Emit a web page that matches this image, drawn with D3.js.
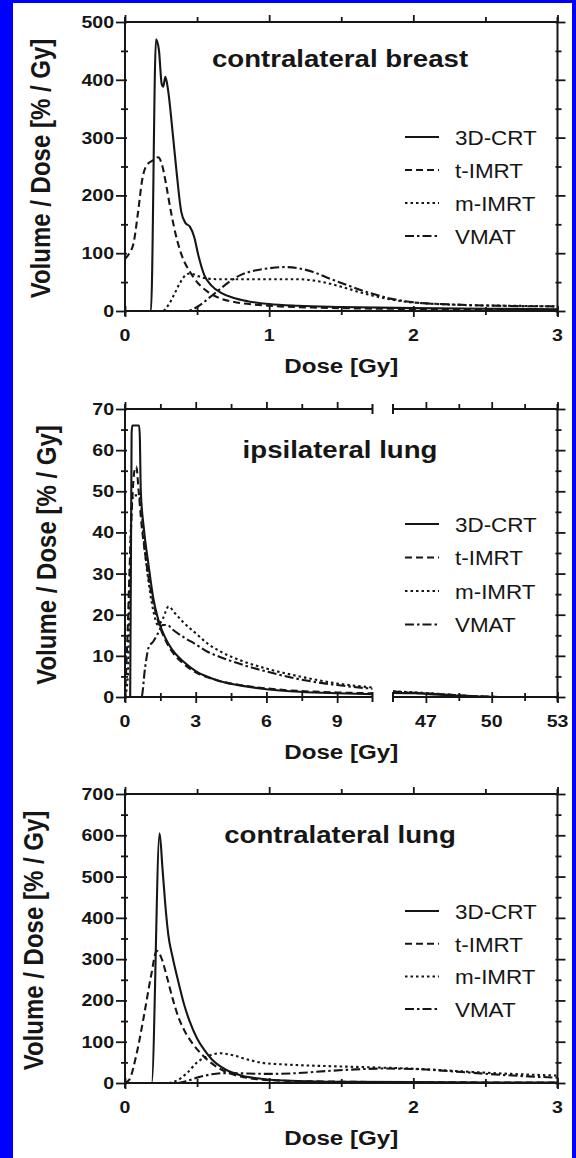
<!DOCTYPE html>
<html>
<head>
<meta charset="utf-8">
<script src="https://cdn.jsdelivr.net/npm/d3@7"></script>
<style>
  html, body { margin: 0; padding: 0; background: #fff; }
  svg { display: block; }
</style>
</head>
<body>
<script>
// ---- data: differential DVH, [dose Gy, volume/dose %/Gy] ----
const techniques = ["3D-CRT", "t-IMRT", "m-IMRT", "VMAT"];
const panelTitles = ["contralateral breast", "ipsilateral lung", "contralateral lung"];

const breastCRT = [[0,0],[0.18,0],[0.215,470],[0.235,452],[0.255,392],[0.265,388],[0.28,405],[0.3,380],[0.33,310],[0.36,235],[0.39,172],[0.42,152],[0.45,146],[0.48,128],[0.51,95],[0.55,62],[0.6,44],[0.67,31],[0.75,23],[0.85,17],[1.0,12],[1.2,9],[1.5,7],[2.0,5],[2.5,4],[3.0,3]];
const breastTIMRT = [[0,90],[0.03,100],[0.06,118],[0.09,170],[0.12,228],[0.15,252],[0.19,260],[0.23,266],[0.26,250],[0.29,212],[0.32,170],[0.36,124],[0.4,92],[0.45,68],[0.5,50],[0.57,34],[0.65,23],[0.75,16],[0.9,11],[1.0,9],[1.3,6],[1.6,4.5],[2,3.5],[2.5,2.5],[3,2]];
const breastMIMRT = [[0,0],[0.26,0],[0.3,10],[0.34,28],[0.38,48],[0.42,62],[0.45,65],[0.5,61],[0.55,57],[0.65,55],[0.8,55],[1.0,55],[1.2,55],[1.35,51],[1.5,42],[1.65,31],[1.8,22],[1.95,16],[2.1,13],[2.4,10],[2.7,9],[3,8]];
const breastVMAT = [[0,0],[0.42,0],[0.47,3],[0.52,10],[0.58,22],[0.65,36],[0.72,50],[0.8,62],[0.9,70],[1.0,74],[1.1,76],[1.2,74],[1.3,68],[1.4,58],[1.55,44],[1.7,31],[1.85,21],[2.0,15],[2.3,11],[2.6,9],[3,8]];

const ipsiCRT = [[0,0],[0.22,0],[0.28,64],[0.31,66],[0.45,66],[0.6,66],[0.63,63],[0.67,50],[0.8,41],[1.0,32],[1.2,24],[1.4,19],[1.7,14.5],[2.0,11.5],[2.5,8.5],[3.0,6.3],[3.5,4.9],[4,3.9],[5,2.7],[6,1.9],[7,1.4],[8,1.1],[9,0.9],[10.5,0.7],[45.5,1.0],[46.5,0.9],[47.5,0.6],[48.5,0.3],[49.5,0.1],[50.5,0],[53,0]];
const ipsiTIMRT = [[0,0],[0.1,14],[0.2,32],[0.3,47],[0.4,55],[0.48,56],[0.58,50],[0.7,42],[0.85,35],[1.0,29],[1.2,23],[1.4,18.5],[1.7,14],[2.0,11],[2.5,8],[3.0,6],[3.5,4.8],[4,3.9],[5,2.8],[6,2.1],[7,1.6],[8,1.3],[9,1.1],[10.5,0.9],[45.5,1.2],[46.5,1.0],[47.5,0.7],[48.5,0.4],[49.5,0.1],[50.5,0],[53,0]];
const ipsiMIMRT = [[0,0],[0.12,5],[0.2,28],[0.28,46],[0.35,49],[0.5,49],[0.65,48],[0.8,38],[1.0,28],[1.2,21],[1.4,17.5],[1.6,19],[1.85,22],[2.1,20.5],[2.5,18],[3.0,15.5],[3.5,13],[4,11.2],[5,8.7],[6,6.9],[7,5.5],[8,4.3],[9,3.3],[10.5,2.3],[45.5,1.4],[46.5,1.1],[47.5,0.8],[48.5,0.4],[49.5,0.1],[50.5,0],[53,0]];
const ipsiVMAT = [[0,0],[0.7,0],[0.85,7],[1.0,12],[1.2,13.5],[1.4,15.5],[1.6,17.5],[1.8,17.5],[2.0,16.5],[2.5,14.5],[3.0,12.8],[3.5,11],[4,9.8],[5,7.8],[6,6.2],[7,4.8],[8,3.7],[9,2.9],[10.5,2.0],[45.5,1.3],[46.5,1.0],[47.5,0.7],[48.5,0.4],[49.5,0.1],[50.5,0],[53,0]];

const contraCRT = [[0,0],[0.185,0],[0.24,605],[0.26,520],[0.28,430],[0.3,360],[0.33,305],[0.37,245],[0.41,190],[0.45,148],[0.5,108],[0.55,80],[0.6,58],[0.7,32],[0.8,19],[0.9,12],[1.0,8],[1.2,5],[1.5,3],[2,2],[3,1]];
const contraTIMRT = [[0,0],[0.03,8],[0.08,70],[0.13,160],[0.18,258],[0.22,320],[0.25,305],[0.29,258],[0.33,205],[0.37,160],[0.42,122],[0.47,95],[0.53,70],[0.6,48],[0.7,27],[0.8,16],[0.9,10],[1.0,7],[1.3,4],[2,2],[3,1]];
const contraMIMRT = [[0,0],[0.3,0],[0.36,6],[0.43,24],[0.5,50],[0.58,66],[0.66,72],[0.75,67],[0.85,57],[0.95,49],[1.1,45],[1.3,42],[1.5,40],[1.7,38],[1.9,36],[2.1,33],[2.3,29],[2.5,25],[2.75,21],[3,18]];
const contraVMAT = [[0,0],[0.36,0],[0.43,5],[0.5,13],[0.6,21],[0.7,24],[0.85,23],[1.0,22],[1.2,24],[1.4,29],[1.6,33],[1.8,35],[2.0,34],[2.2,30],[2.4,25],[2.6,20],[2.8,16],[3,13]];

// tick values
const yTicksBreast = [0,100,200,300,400,500];
const yTicksIpsi = [0,10,20,30,40,50,60,70];
const yTicksContra = [0,100,200,300,400,500,600,700];
const xTicksDose = [0,1,2,3];
const xTicksIpsiLow = [0,3,6,9];
const xTicksIpsiHigh = [47,50,53];

// ---- drawing ----
const W = 576, H = 1158;
const FONT = "'Liberation Sans', Arial, Helvetica, sans-serif";
const SX = 1.15;          // horizontal glyph stretch
const INK = "#161616";
const dashes = [null, "7,4", "2.5,3", "9,3,2.5,3"];

const svg = d3.select("body").append("svg")
  .attr("width", W).attr("height", H)
  .attr("viewBox", `0 0 ${W} ${H}`);

svg.append("rect").attr("width", W).attr("height", H).attr("fill", "#fff");

function label(g, x, y, text, o = {}) {
  const t = g.append("text")
    .attr("transform", `translate(${x},${y}) scale(${o.sx || SX},1)` + (o.rotate ? ` rotate(${o.rotate})` : ""))
    .attr("text-anchor", o.anchor || "start")
    .attr("font-family", FONT)
    .attr("font-size", o.size || 17)
    .attr("font-weight", o.bold === false ? "normal" : "bold")
    .attr("fill", INK)
    .text(text);
  if (o.dy) t.attr("dy", o.dy);
  return t;
}

const L = 125, R = 557.5;

const panels = [
  { top: 22, bottom: 311, yMax: 500, yTicks: yTicksBreast, yMinor: 50,
    title: panelTitles[0], titleY: 67, yTitleX: 40, legendY: 138, legendStep: 33,
    series: [breastCRT, breastTIMRT, breastMIMRT, breastVMAT] },
  { top: 409, bottom: 697, yMax: 70, yTicks: yTicksIpsi, yMinor: 5, broken: true,
    title: panelTitles[1], titleY: 458, yTitleX: 46, legendY: 525, legendStep: 33.5,
    series: [ipsiCRT, ipsiTIMRT, ipsiMIMRT, ipsiVMAT] },
  { top: 794, bottom: 1083, yMax: 700, yTicks: yTicksContra, yMinor: 50,
    title: panelTitles[2], titleY: 843, yTitleX: 33, legendY: 912, legendStep: 32.7,
    series: [contraCRT, contraTIMRT, contraMIMRT, contraVMAT] }
];

// tick line reshaping: ticks cross the frame line
function crossTicks(sel, orient, inner, outer) {
  sel.select(".domain").remove();
  sel.selectAll(".tick line").each(function () {
    const l = d3.select(this);
    if (orient === "bottom") l.attr("y1", -inner).attr("y2", outer);
    if (orient === "top") l.attr("y1", inner).attr("y2", -outer);
    if (orient === "left") l.attr("x1", inner).attr("x2", -outer);
    if (orient === "right") l.attr("x1", -inner).attr("x2", outer);
  });
  sel.selectAll(".tick line").attr("stroke", INK).attr("stroke-width", 1.8);
  sel.selectAll(".tick text").remove();
}

panels.forEach(p => {
  const g = svg.append("g");
  const y = d3.scaleLinear().domain([0, p.yMax]).range([p.bottom, p.top]);
  const yMinorVals = d3.range(p.yMinor, p.yMax, p.yMinor * 2);

  // x scales (one segment, or two for the broken axis)
  let segs;
  if (p.broken) {
    segs = [
      { x: d3.scaleLinear().domain([0, 10.5]).range([L, 372.5]), major: xTicksIpsiLow, minor: [1.5,4.5,7.5], d0: 0, d1: 10.5 },
      { x: d3.scaleLinear().domain([45.5, 53]).range([393, R]), major: xTicksIpsiHigh, minor: [48.5,51.5], d0: 45.5, d1: 53 }
    ];
  } else {
    segs = [{ x: d3.scaleLinear().domain([0, 3]).range([L, R]), major: xTicksDose, minor: [0.5,1.5,2.5], d0: 0, d1: 3 }];
  }

  // curves
  segs.forEach(s => {
    const line = d3.line()
      .x(d => s.x(d[0])).y(d => y(d[1]))
      .curve(d3.curveMonotoneX);
    p.series.forEach((ser, i) => {
      const pts = ser.filter(d => d[0] >= s.d0 - 1e-9 && d[0] <= s.d1 + 1e-9);
      g.append("path")
        .attr("d", line(pts))
        .attr("fill", "none")
        .attr("stroke", INK)
        .attr("stroke-width", 2.1)
        .attr("stroke-dasharray", dashes[i])
        .attr("stroke-linejoin", "round");
    });
  });

  // frame lines
  segs.forEach((s, k) => {
    const [a, b] = s.x.range();
    [p.top, p.bottom].forEach(yy => {
      g.append("line").attr("x1", a).attr("x2", b).attr("y1", yy).attr("y2", yy)
        .attr("stroke", INK).attr("stroke-width", 2);
    });
    if (p.broken) {
      // end caps at the break
      const cx = k === 0 ? b : a;
      [p.top, p.bottom].forEach(yy => {
        g.append("line").attr("x1", cx).attr("x2", cx).attr("y1", yy - 5).attr("y2", yy + 5)
          .attr("stroke", INK).attr("stroke-width", 2);
      });
    }
    // bottom/top ticks
    g.append("g").attr("transform", `translate(0,${p.bottom})`)
      .call(d3.axisBottom(s.x).tickValues(s.major).tickSize(6))
      .call(sel => crossTicks(sel, "bottom", 5, 6));
    g.append("g").attr("transform", `translate(0,${p.bottom})`)
      .call(d3.axisBottom(s.x).tickValues(s.minor).tickSize(4))
      .call(sel => crossTicks(sel, "bottom", 4, 4));
    g.append("g").attr("transform", `translate(0,${p.top})`)
      .call(d3.axisTop(s.x).tickValues(s.major).tickSize(7))
      .call(sel => crossTicks(sel, "top", 0, 7));
    g.append("g").attr("transform", `translate(0,${p.top})`)
      .call(d3.axisTop(s.x).tickValues(s.minor).tickSize(5))
      .call(sel => crossTicks(sel, "top", 0, 5));
    // x tick labels
    s.major.forEach(v => label(g, s.x(v), p.bottom + 30, String(v), { anchor: "middle", size: 17 }));
  });

  // left and right frame
  [L, R].forEach(xx => {
    g.append("line").attr("x1", xx).attr("x2", xx).attr("y1", p.top - 5).attr("y2", p.bottom + 5)
      .attr("stroke", INK).attr("stroke-width", 2);
  });
  g.append("g").attr("transform", `translate(${L},0)`)
    .call(d3.axisLeft(y).tickValues(p.yTicks).tickSize(8))
    .call(sel => crossTicks(sel, "left", 2, 9));
  g.append("g").attr("transform", `translate(${L},0)`)
    .call(d3.axisLeft(y).tickValues(yMinorVals).tickSize(4))
    .call(sel => crossTicks(sel, "left", 3, 4));
  g.append("g").attr("transform", `translate(${R},0)`)
    .call(d3.axisRight(y).tickValues(p.yTicks).tickSize(8))
    .call(sel => crossTicks(sel, "right", 2, 8));
  g.append("g").attr("transform", `translate(${R},0)`)
    .call(d3.axisRight(y).tickValues(yMinorVals).tickSize(4))
    .call(sel => crossTicks(sel, "right", 2, 4));

  // y tick labels
  p.yTicks.forEach(v => label(g, L - 11, y(v), String(v), { anchor: "end", size: 17, dy: "0.35em" }));

  // axis titles
  label(g, (L + R) / 2, p.bottom + 62, "Dose [Gy]", { anchor: "middle", size: 21 });
  label(g, p.yTitleX, (p.top + p.bottom) / 2 + 2, "Volume / Dose [% / Gy]",
    { anchor: "middle", size: 24, rotate: -90, dy: "0.35em" });

  // panel title
  label(g, 340, p.titleY, p.title, { anchor: "middle", size: 24 });

  // legend
  techniques.forEach((name, i) => {
    const ly = p.legendY + i * p.legendStep;
    g.append("line").attr("x1", 405).attr("x2", 439).attr("y1", ly - 1).attr("y2", ly - 1)
      .attr("stroke", INK).attr("stroke-width", 2)
      .attr("stroke-dasharray", dashes[i]);
    label(g, 455, ly, name, { size: 19.5, bold: false, dy: "0.35em" });
  });
});

// blue page border
svg.append("rect").attr("x", 0).attr("y", 0).attr("width", 13).attr("height", H).attr("fill", "#0000fe");
svg.append("rect").attr("x", 0).attr("y", 0).attr("width", W).attr("height", 3).attr("fill", "#0000fe");
svg.append("rect").attr("x", 572).attr("y", 0).attr("width", 4).attr("height", H).attr("fill", "#0000fe");
</script>
</body>
</html>
